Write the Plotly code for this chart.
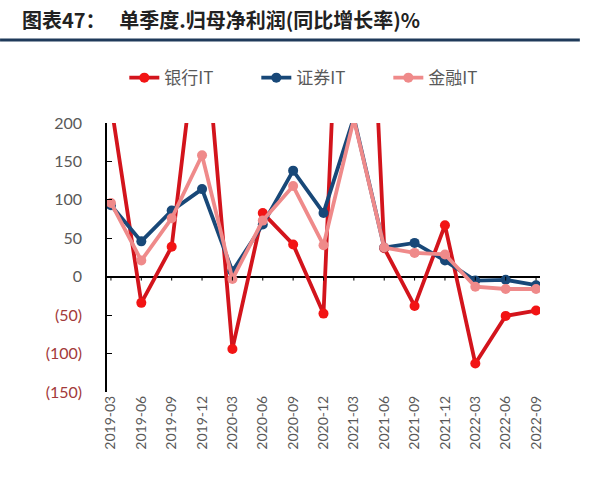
import plotly.graph_objects as go

categories = ["2019-03", "2019-06", "2019-09", "2019-12", "2020-03", "2020-06", "2020-09",
              "2020-12", "2021-03", "2021-06", "2021-09", "2021-12", "2022-03", "2022-06", "2022-09"]
bank_it = [225, -34, 39, 370, -94, 83, 42, -48, 870, 37, -38, 67, -113, -51, -44]
broker_it = [93, 46, 86, 114, 7, 68, 138, 83, 207, 38, 44, 21, -5, -4, -11]
finance_it = [96, 21, 76, 158, -3, 73, 118, 41, 205, 38, 31, 29, -13, -16, -16]

y_ticks = [-150, -100, -50, 0, 50, 100, 150, 200]
y_labels = ["(150)", "(100)", "(50)", "0", "50", "100", "150", "200"]

NEG = "#A33A3A"
POS = "#595959"
tick_text = [f"<span style='color:{NEG}'>{t}</span>" if v < 0 else t for v, t in zip(y_ticks, y_labels)]

fig = go.Figure()

series = [
    ("银行IT", bank_it, "#D3141C", "#F21414"),
    ("证券IT", broker_it, "#184878", "#184878"),
    ("金融IT", finance_it, "#EF8A8A", "#EF8A8A"),
]
for name, vals, lc, mc in series:
    fig.add_trace(go.Scatter(
        x=categories, y=vals, name=name, mode="lines+markers",
        line=dict(color=lc, width=3.8),
        marker=dict(color=mc, size=10),
        cliponaxis=True,
    ))

# small downward tick marks on the zero axis
fig.add_trace(go.Scatter(
    x=categories, y=[0] * len(categories), mode="markers",
    marker=dict(color="rgba(0,0,0,0)", size=1),
    error_y=dict(type="constant", symmetric=False, value=0, valueminus=5,
                 width=0, thickness=1, color="black"),
    showlegend=False, hoverinfo="skip",
))

fig.update_layout(
    width=600, height=485,
    margin=dict(l=107, r=60, t=123, b=93, autoexpand=False),
    paper_bgcolor="white", plot_bgcolor="white",
    font=dict(family="Lato, Noto Sans CJK SC", color=POS),
    showlegend=True,
    legend=dict(orientation="h", x=0.04, xanchor="left", y=1.167, yanchor="middle",
                font=dict(size=17, color=POS, family="Noto Sans CJK SC"),
                entrywidth=87, entrywidthmode="pixels", traceorder="normal"),
    annotations=[dict(
        text="<b>图表47：   单季度.归母净利润(同比增长率)%</b>",
        xref="paper", yref="paper", x=-0.2, y=1.383, xanchor="left", yanchor="middle",
        showarrow=False, font=dict(size=20, color="#222222", family="Noto Sans CJK SC"),
    )],
    shapes=[dict(type="line", xref="paper", yref="paper", x0=-0.247, x1=1.092, y0=1.3086, y1=1.3086,
                 line=dict(color="#1F3A5A", width=3))],
)

fig.update_xaxes(
    type="category", range=[-0.13, 14.13], showline=False, showgrid=False,
    ticks="", tickangle=-90, tickfont=dict(size=14, color=POS, family="Lato"),
    zeroline=False, automargin=False,
)
fig.update_yaxes(
    range=[-150, 200], tickvals=y_ticks, ticktext=tick_text,
    showgrid=False, showline=True, linecolor="black", linewidth=1.5,
    ticks="inside", ticklen=5, tickcolor="black", tickwidth=1,
    zeroline=True, zerolinecolor="black", zerolinewidth=1.5,
    tickfont=dict(size=16, color=POS, family="Lato"), ticklabelstandoff=20,
    automargin=False,
)

fig.write_html("out.html", config={"displayModeBar": False},
               post_script="document.body.style.margin='0px';document.body.style.overflow='hidden';")
